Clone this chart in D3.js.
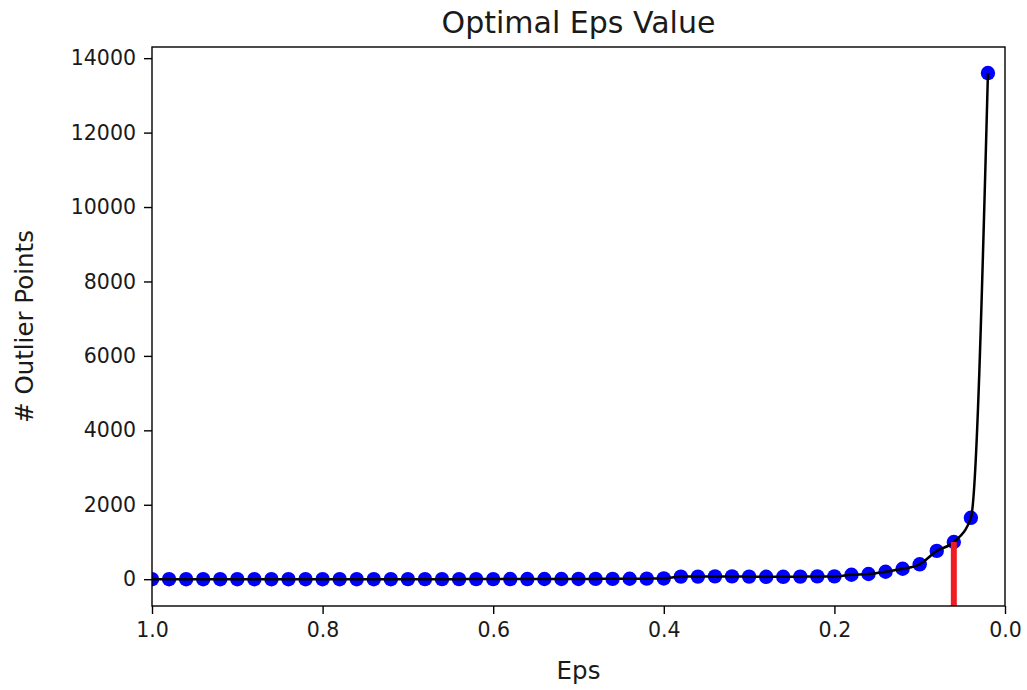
<!DOCTYPE html>
<html lang="en">

<head>
    <meta charset="UTF-8">
    <title>Optimal Eps Value</title>
    <style>
        body {
            margin: 0;
            background: #fff;
        }

        #chart text {
            font-family: "DejaVu Sans", sans-serif;
            fill: #1a1a1a;
        }
    </style>
</head>

<body>
    <svg id="chart" width="1027" height="690"></svg>

    <script src="https://d3js.org/d3.v7.min.js"></script>
    <script>
        // eps values tried, from 1.0 down to 0.02
        const epsValues = [
            1.00, 0.98, 0.96, 0.94, 0.92, 0.90, 0.88, 0.86, 0.84, 0.82,
            0.80, 0.78, 0.76, 0.74, 0.72, 0.70, 0.68, 0.66, 0.64, 0.62,
            0.60, 0.58, 0.56, 0.54, 0.52, 0.50, 0.48, 0.46, 0.44, 0.42,
            0.40, 0.38, 0.36, 0.34, 0.32, 0.30, 0.28, 0.26, 0.24, 0.22,
            0.20, 0.18, 0.16, 0.14, 0.12, 0.10, 0.08, 0.06, 0.04, 0.02
        ];

        // number of outlier points found for each eps
        const outlierCounts = [
            0, 0, 0, 0, 0, 0, 0, 0, 0, 0,
            0, 0, 0, 0, 0, 1, 1, 2, 2, 3,
            3, 4, 4, 5, 6, 7, 8, 10, 12, 15,
            20, 70, 70, 75, 75, 70, 65, 65, 70, 75,
            75, 120, 140, 200, 280, 400, 760, 1000, 1650, 13600
        ];

        const xTicks = [1.0, 0.8, 0.6, 0.4, 0.2, 0.0];
        const yTicks = [0, 2000, 4000, 6000, 8000, 10000, 12000, 14000];

        // chosen eps (red marker)
        const optimalEps = 0.06;

        const svg = d3.select("#chart");
        const margin = { top: 47, right: 22, bottom: 84, left: 152 };
        const width = 1027 - margin.left - margin.right;
        const height = 690 - margin.top - margin.bottom;

        const data = epsValues.map((e, i) => ({ eps: e, count: outlierCounts[i] }));

        // x axis runs backwards, 1.0 on the left
        const xScale = d3.scaleLinear()
            .domain([1.0, 0.0])
            .range([0, width]);

        const yScale = d3.scaleLinear()
            .domain([-720, 14300])
            .range([height, 0]);

        svg.append("defs").append("clipPath")
            .attr("id", "plot-clip")
            .append("rect")
            .attr("width", width)
            .attr("height", height);

        const g = svg.append("g")
            .attr("transform", `translate(${margin.left},${margin.top})`);

        const plot = g.append("g").attr("clip-path", "url(#plot-clip)");

        // blue markers
        plot.selectAll(".dot")
            .data(data)
            .enter().append("circle")
            .attr("class", "dot")
            .attr("cx", d => xScale(d.eps))
            .attr("cy", d => yScale(d.count))
            .attr("r", 7.2)
            .attr("fill", "#0000ff");

        // black curve through the points
        const line = d3.line()
            .x(d => xScale(d.eps))
            .y(d => yScale(d.count))
            .curve(d3.curveMonotoneX);

        plot.append("path")
            .datum(data)
            .attr("d", line)
            .attr("fill", "none")
            .attr("stroke", "#000")
            .attr("stroke-width", 2.5);

        // red line at the chosen eps
        const optimalCount = outlierCounts[epsValues.indexOf(optimalEps)];
        plot.append("line")
            .attr("x1", xScale(optimalEps))
            .attr("x2", xScale(optimalEps))
            .attr("y1", yScale(yScale.domain()[0]))
            .attr("y2", yScale(optimalCount))
            .attr("stroke", "#ee1d23")
            .attr("stroke-width", 6);

        // axes
        const xAxis = g.append("g")
            .attr("transform", `translate(0,${height})`)
            .call(d3.axisBottom(xScale).tickValues(xTicks).tickFormat(d3.format(".1f"))
                .tickSizeInner(8).tickSizeOuter(0).tickPadding(8));

        const yAxis = g.append("g")
            .call(d3.axisLeft(yScale).tickValues(yTicks).tickFormat(d => d)
                .tickSizeInner(8).tickSizeOuter(0).tickPadding(8));

        [xAxis, yAxis].forEach(ax => {
            ax.select(".domain").remove();
            ax.selectAll("line").attr("stroke", "#000").attr("stroke-width", 1.4);
            ax.selectAll("text").style("font-size", "20.5px");
        });

        // frame
        g.append("rect")
            .attr("width", width)
            .attr("height", height)
            .attr("fill", "none")
            .attr("stroke", "#000")
            .attr("stroke-width", 1.4);

        // title and axis titles
        svg.append("text")
            .attr("x", margin.left + width / 2)
            .attr("y", 33)
            .attr("text-anchor", "middle")
            .style("font-size", "30px")
            .text("Optimal Eps Value");

        svg.append("text")
            .attr("x", margin.left + width / 2)
            .attr("y", 679)
            .attr("text-anchor", "middle")
            .style("font-size", "24.5px")
            .text("Eps");

        svg.append("text")
            .attr("transform", `translate(33,${margin.top + height / 2}) rotate(-90)`)
            .attr("text-anchor", "middle")
            .style("font-size", "24.5px")
            .text("# Outlier Points");
    </script>
</body>

</html>
